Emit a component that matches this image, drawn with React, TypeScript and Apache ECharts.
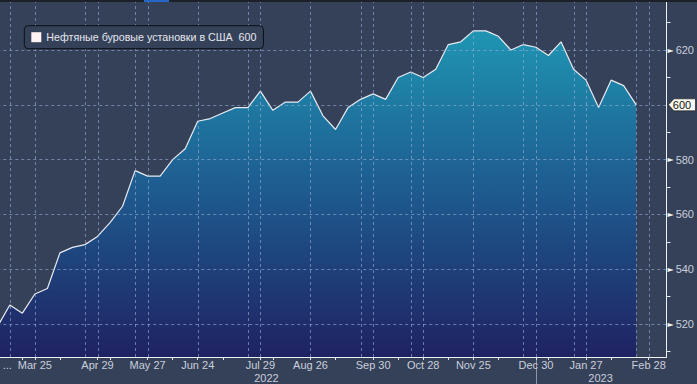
import React, { useEffect, useRef } from 'react';
import * as echarts from 'echarts';

// ---- data (weekly US oil rig count, week index 0 = Mar 4, 2022) ----
const seriesName = 'Нефтяные буровые установки в США';
const rigCounts = [
  519, 527, 524, 531, 533, 546, 548, 549, 552, 557, 563, 576, 574, 574, 580, 584,
  594, 595, 597, 599, 599, 605, 598, 601, 601, 605, 596, 591, 599, 602, 604, 602,
  610, 612, 610, 613, 622, 623, 627, 627, 625, 620, 622, 621, 618, 623, 613, 609,
  599, 609, 607, 600,
];
const xLabelText = ['...', 'Mar 25', 'Apr 29', 'May 27', 'Jun 24', 'Jul 29', 'Aug 26', 'Sep 30', 'Oct 28', 'Nov 25', 'Dec 30', 'Jan 27', 'Feb 28'];
const xLabelPos = [0.8, 3, 8, 12, 16, 21, 25, 30, 34, 38, 43, 47, 52];
const xTickPos = [2, 3, 5, 8, 9, 12, 14, 16, 18, 21, 22, 25, 27, 30, 32, 34, 36, 38, 40, 43, 44, 47, 49, 52];
const xGridPos = [1, 3, 7, 8, 11, 12, 16, 20, 21, 25, 29, 30, 33, 34, 38, 42, 43, 46, 47, 51, 52];
const yGridValues = [520, 540, 560, 580, 600, 620];
const yLabelValues = [520, 540, 560, 580, 620];
const yMinorValues = [510, 530, 550, 570, 590, 610, 630];
const yearLabels = ['2022', '2023'];
const yearLabelPos = [21.48, 48.16];
const yearDividerPos = [43];

const X_MIN = 0;
const X_MAX = 53.42;
const Y_MIN = 508;
const Y_MAX = 638.25;

const FONT = '"Liberation Sans", Arial, sans-serif';
const GRID_COLOR = 'rgba(150,175,215,0.62)';

export default function App() {
  const ref = useRef<HTMLDivElement>(null);

  useEffect(() => {
    if (!ref.current) return;
    const chart = echarts.init(ref.current, null, { renderer: 'svg' });
    const lastValue = rigCounts[rigCounts.length - 1];
    const data = rigCounts.map((v, i) => [i, v]);

    const findLabel = (val: number, pos: number[], txt: string[]) => {
      for (let i = 0; i < pos.length; i++) if (Math.abs(pos[i] - val) < 0.01) return txt[i];
      return '';
    };

    const option: any = {
      animation: false,
      backgroundColor: '#354159',
      textStyle: { fontFamily: FONT },
      grid: { left: 17.3, right: 29, top: 0, bottom: 27 },
      legend: {
        left: 44.3,
        top: 25.7,
        padding: [6, 7, 6, 7],
        backgroundColor: '#354159',
        borderColor: '#0c1017',
        borderWidth: 1,
        borderRadius: 4,
        icon: 'rect',
        itemWidth: 10,
        itemHeight: 10,
        itemGap: 5,
        itemStyle: { color: '#fff3f3', borderWidth: 0 },
        textStyle: { color: '#e4e7ee', fontSize: 10.7, fontFamily: FONT },
        formatter: (name: string) => name + '  ' + lastValue,
        data: [seriesName],
      },
      xAxis: [
        {
          type: 'value',
          min: X_MIN,
          max: X_MAX,
          position: 'bottom',
          z: 6,
          axisLine: { show: true, onZero: false, lineStyle: { color: '#eef0f4', width: 1 } },
          axisTick: { show: true, customValues: xTickPos, length: 3, lineStyle: { color: '#e6e8ee' } },
          axisLabel: {
            customValues: xLabelPos,
            margin: 2,
            color: '#c9cfdb',
            fontSize: 11,
            fontFamily: FONT,
            formatter: (v: number) => findLabel(v, xLabelPos, xLabelText),
          },
          splitLine: { show: false },
        },
        {
          type: 'value',
          min: X_MIN,
          max: X_MAX,
          position: 'bottom',
          axisLine: { show: false, onZero: false },
          axisTick: { show: true, customValues: yearDividerPos, length: 27, lineStyle: { color: '#8c95a8' } },
          axisLabel: {
            customValues: yearLabelPos,
            margin: 15,
            color: '#c9cfdb',
            fontSize: 11,
            fontFamily: FONT,
            formatter: (v: number) => findLabel(v, yearLabelPos, yearLabels),
          },
          splitLine: { show: false },
        },
      ],
      yAxis: {
        type: 'value',
        position: 'right',
        min: Y_MIN,
        max: Y_MAX,
        z: 6,
        axisLine: { show: true, onZero: false, lineStyle: { color: '#eef0f4', width: 1 } },
        axisTick: { show: true, customValues: yMinorValues, length: 4, lineStyle: { color: '#e6e8ee' } },
        axisLabel: {
          customValues: yLabelValues,
          margin: 1,
          formatter: (v: number) => '{t|►}{v|' + v + '}',
          rich: {
            t: { fontSize: 8, color: '#f4f4f4', padding: [0, 2, 0, 0], fontFamily: 'DejaVu Sans' },
            v: { fontSize: 11, color: '#c9cfdb', fontFamily: FONT },
          },
        },
        splitLine: { show: false },
      },
      graphic: [
        { type: 'rect', left: 20, top: 0, shape: { width: 697, height: 2 }, style: { fill: '#1c2029' }, z: 100 },
        { type: 'rect', left: 164, top: 0, shape: { width: 25, height: 2 }, style: { fill: '#2567c4' }, z: 101 },
      ],
      series: [
        {
          name: seriesName,
          type: 'line',
          data,
          xAxisIndex: 0,
          yAxisIndex: 0,
          z: 2,
          showSymbol: false,
          symbol: 'none',
          itemStyle: { color: '#fff3f3' },
          lineStyle: { color: '#e8eaf2', width: 1.2 },
          areaStyle: {
            color: new echarts.graphic.LinearGradient(0, 0, 0, 1, [
              { offset: 0, color: '#1f95b2' },
              { offset: 0.45, color: '#1e5f92' },
              { offset: 1, color: '#1f2262' },
            ]),
            opacity: 1,
          },
          markPoint: {
            silent: true,
            symbol: 'path://M0,6 L6,0 L30,0 L30,12 L6,12 Z',
            symbolSize: [27, 12],
            symbolKeepAspect: false,
            symbolOffset: [15.5, 0],
            itemStyle: { color: '#fbfbf3', borderColor: '#1a1a1a', borderWidth: 0.6 },
            label: {
              show: true,
              position: 'inside',
              color: '#111111',
              fontSize: 11,
              fontFamily: FONT,
              formatter: () => String(lastValue),
            },
            data: [{ coord: [X_MAX, lastValue], value: lastValue }],
          },
        },
        {
          name: 'vgrid',
          type: 'custom',
          xAxisIndex: 0,
          yAxisIndex: 0,
          silent: true,
          z: 3,
          data: xGridPos.map((x) => [x, Y_MIN + 1]),
          encode: { x: 0, y: 1 },
          renderItem: (params: any, api: any) => {
            const x = api.value(0);
            const p0 = api.coord([x, Y_MIN]);
            const p1 = api.coord([x, Y_MAX]);
            const px = Math.round(p0[0]) + 0.5;
            return {
              type: 'line',
              shape: { x1: px, y1: p0[1], x2: px, y2: p1[1] },
              style: { stroke: GRID_COLOR, lineWidth: 1, lineDash: [3, 3] },
            };
          },
        },
        {
          name: 'hgrid',
          type: 'line',
          xAxisIndex: 0,
          yAxisIndex: 0,
          data: [],
          symbol: 'none',
          z: 4,
          silent: true,
          markLine: {
            silent: true,
            symbol: ['none', 'none'],
            label: { show: false },
            lineStyle: { color: GRID_COLOR, width: 1, type: [3, 3] },
            data: yGridValues.map((y) => ({ yAxis: y })),
          },
        },
      ],
    };

    chart.setOption(option);
    return () => chart.dispose();
  }, []);

  return (
    <div
      ref={ref}
      style={{ position: 'fixed', left: -20, top: 0, width: 717, height: 384 }}
    />
  );
}
